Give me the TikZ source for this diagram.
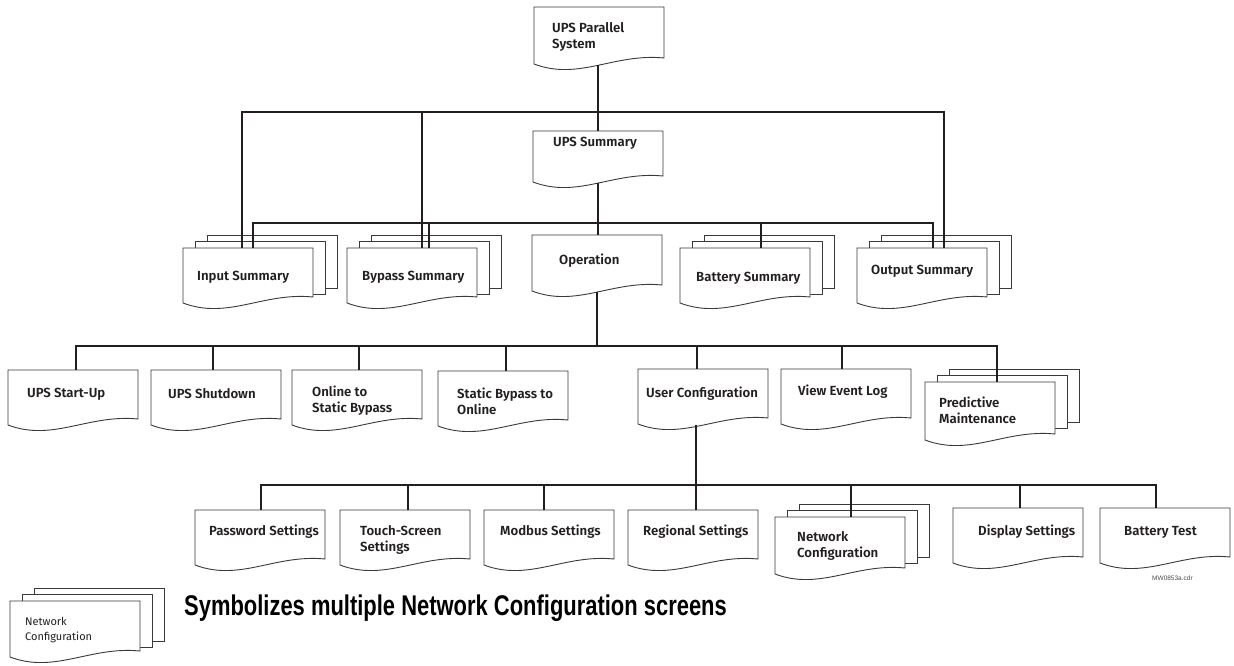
\documentclass[tikz,border=0pt]{standalone}
\usepackage{fontspec}
\setmainfont{Liberation Sans}
\newfontfamily\nodefont{Fira Sans SemiBold}
\newfontfamily\regfont{Fira Sans}
\newfontfamily\legfont[FakeStretch=0.77]{Liberation Sans Bold}
\definecolor{busc}{HTML}{231F20}
\definecolor{boxc}{HTML}{3A3A3A}
\definecolor{txtc}{HTML}{231F20}
\tikzset{
  boxarea/.style={rectangle, anchor=north west, minimum width=130pt, inner sep=0pt, outer sep=0pt, draw=none},
  docframe/.style={draw=boxc, line width=0.9pt, fill=white, line join=miter},
  backframe/.style={draw=boxc, line width=0.9pt, fill=white},
  bus/.style={draw=busc, line width=2.8pt, line join=miter, line cap=butt},
  doctxt/.style={font=\nodefont\fontsize{13.2}{16}\selectfont, text=txtc, align=left, anchor=west, inner sep=0pt},
  legtxt/.style={font=\regfont\fontsize{11}{15}\selectfont, text=txtc, align=left, anchor=west, inner sep=0pt},
}
\newcommand\DocBox[4]{%
  \node[boxarea, minimum height=#4pt] (#1) at (#2,#3) {};
  \draw[docframe] (#1.north west) -- (#1.north east) -- (#1.south east)
    .. controls ([shift={(-50,-5)}]#1.south east) and ([shift={(-85,23)}]#1.south east)
    .. ([shift={(0,6)}]#1.south west) -- cycle;
}
\newcommand\MultiBox[4]{%
  \node[boxarea, minimum height=53pt] (#1-l3) at ({#2+24},{#3-13}) {};
  \draw[backframe] (#1-l3.north west) rectangle (#1-l3.south east);
  \node[boxarea, minimum height=53pt] (#1-l2) at ({#2+12},{#3-6.5}) {};
  \draw[backframe] (#1-l2.north west) rectangle (#1-l2.south east);
  \DocBox{#1}{#2}{#3}{#4}
}
\begin{document}
\begin{tikzpicture}[x=1pt,y=-1pt]
\useasboundingbox (0,0) rectangle (1234,665);

% ---- boxes ----
\DocBox{ups}{534}{7}{51}
\DocBox{sum}{533}{131}{45}
\DocBox{op}{532}{235}{50}
\MultiBox{in}{183}{248}{49}
\MultiBox{byp}{347}{248}{49}
\MultiBox{bat}{680}{248}{49}
\MultiBox{out}{857}{248}{49}

\DocBox{su}{8}{370}{49}
\DocBox{sd}{151}{370}{49}
\DocBox{osb}{292}{370}{49}
\DocBox{sbo}{438}{371}{49}
\DocBox{uc}{638}{369}{49}
\DocBox{vel}{781}{369}{49}
\MultiBox{pm}{925}{382}{52}

\DocBox{pw}{195}{510}{49}
\DocBox{ts}{340}{510}{49}
\DocBox{mb}{484}{510}{49}
\DocBox{rg}{628}{510}{49}
\MultiBox{nc}{775}{517}{51}
\DocBox{ds}{953}{508}{49}
\DocBox{bt}{1100}{508}{49}

\MultiBox{leg}{10}{601}{50}

% ---- texts ----
\node[doctxt] (ups-t) at (552,37) {UPS Parallel\\System};
\node[doctxt] (sum-t) at (553,143) {UPS Summary};
\node[doctxt] (op-t) at (559,261) {Operation};
\node[doctxt] (in-t) at (197,277) {Input Summary};
\node[doctxt] (byp-t) at (362,277) {Bypass Summary};
\node[doctxt] (bat-t) at (696,278) {Battery Summary};
\node[doctxt] (out-t) at (871,271) {Output Summary};

\node[doctxt] (su-t) at (27,394) {UPS Start-Up};
\node[doctxt] (sd-t) at (168,394) {UPS Shutdown};
\node[doctxt] (osb-t) at (312,401) {Online to\\Static Bypass};
\node[doctxt] (sbo-t) at (457,401) {Static Bypass to\\Online};
\node[doctxt] (uc-t) at (646,394) {User Configuration};
\node[doctxt] (vel-t) at (798,392) {View Event Log};
\node[doctxt] (pm-t) at (939,410) {Predictive\\Maintenance};

\node[doctxt] (pw-t) at (209,532) {Password Settings};
\node[doctxt] (ts-t) at (360,539.5) {Touch-Screen\\Settings};
\node[doctxt] (mb-t) at (500,532) {Modbus Settings};
\node[doctxt] (rg-t) at (643,532) {Regional Settings};
\node[doctxt] (nc-t) at (797,546) {Network\\Configuration};
\node[doctxt] (ds-t) at (978,532) {Display Settings};
\node[doctxt] (bt-t) at (1124,532) {Battery Test};

\node[legtxt] (leg-t) at (25,630.5) {Network\\Configuration};
\node[anchor=west, inner sep=0pt, text=black, font=\legfont\fontsize{28.5}{30}\selectfont] (legend) at (184,608) {Symbolizes multiple Network Configuration screens};
\node[anchor=west, inner sep=0pt, text=black!70, font=\fontsize{6.5}{8}\selectfont] (mw) at (1152,578) {MW0853a.cdr};

% ---- junctions ----
\coordinate (j1) at (598,112);
\coordinate (j2) at (598,223);
\coordinate (j3) at (597,346);
\coordinate (j4) at (696,485);

% ---- connectors ----
\draw[bus] ([shift={(64,7)}]ups.south west) -- ([xshift=65pt]sum.north west);
\draw[bus] ([xshift=59pt]in.north west) |- (j1);
\draw[bus] ([xshift=75pt]byp.north west) |- (j1);
\draw[bus] ([xshift=87pt]out.north west) |- (j1);

\draw[bus] ([shift={(65,7)}]sum.south west) -- ([xshift=66pt]op.north west);
\draw[bus] ([xshift=70pt]in.north west) |- (j2);
\draw[bus] ([xshift=82pt]byp.north west) |- (j2);
\draw[bus] ([xshift=81pt]bat.north west) |- (j2);
\draw[bus] ([xshift=76pt]out.north west) |- (j2);

\draw[bus] ([shift={(65,7)}]op.south west) -- (j3);
\draw[bus] ([xshift=68pt]su.north west) |- (j3);
\draw[bus] ([xshift=62pt]sd.north west) |- (j3);
\draw[bus] ([xshift=67pt]osb.north west) |- (j3);
\draw[bus] ([xshift=68pt]sbo.north west) |- (j3);
\draw[bus] ([xshift=59pt]uc.north west) |- (j3);
\draw[bus] ([xshift=61pt]vel.north west) |- (j3);
\draw[bus] ([xshift=72pt]pm.north west) |- (j3);

\draw[bus] ([shift={(58,7)}]uc.south west) -- (j4);
\draw[bus] ([xshift=66pt]pw.north west) |- (j4);
\draw[bus] ([xshift=68pt]ts.north west) |- (j4);
\draw[bus] ([xshift=60pt]mb.north west) |- (j4);
\draw[bus] ([xshift=68pt]rg.north west) |- (j4);
\draw[bus] ([xshift=76pt]nc.north west) |- (j4);
\draw[bus] ([xshift=67pt]ds.north west) |- (j4);
\draw[bus] ([xshift=56pt]bt.north west) |- (j4);
\end{tikzpicture}
\end{document}
